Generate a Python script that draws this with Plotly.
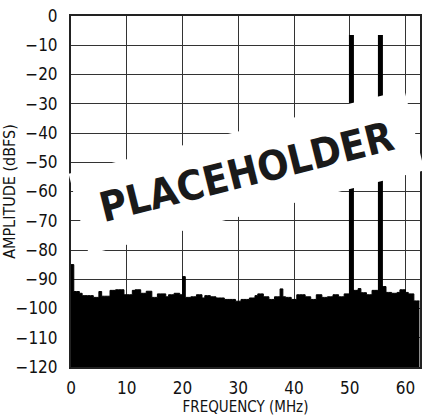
import numpy as np
import plotly.graph_objects as go

# Noise floor, 0.5 MHz bins starting at 0 MHz (dBFS)
floor_db = [
    -85.0, -94.2, -94.2, -94.8, -95.6, -95.6, -95.6, -95.6, -96.2, -96.2,
    -94.2, -95.8, -95.8, -95.8, -93.8, -93.8, -93.6, -93.6, -93.6, -95.3,
    -95.3, -95.3, -93.8, -93.6, -93.6, -94.8, -94.8, -94.1, -94.1, -96.2,
    -96.2, -95.0, -95.0, -95.0, -96.0, -95.3, -95.3, -94.8, -94.8, -95.3,
    -89.1, -96.2, -96.2, -96.0, -96.0, -95.3, -95.3, -96.4, -95.6, -95.6,
    -96.0, -96.0, -96.4, -96.4, -96.4, -96.9, -96.9, -96.9, -96.9, -97.5,
    -97.5, -96.9, -96.9, -96.9, -96.4, -96.4, -95.6, -95.0, -95.0, -96.0,
    -96.0, -96.9, -96.9, -96.0, -96.0, -93.3, -96.0, -96.2, -96.2, -96.9,
    -96.9, -95.3, -95.3, -95.3, -96.0, -96.0, -96.9, -96.9, -95.3, -95.3,
    -96.2, -96.2, -96.0, -96.0, -95.3, -95.3, -96.0, -96.0, -95.0, -95.0,
    -95.0, -93.8, -93.8, -93.2, -94.6, -94.6, -95.3, -95.3, -93.8, -93.8,
    -93.8, -92.5, -92.5, -94.5, -94.5, -94.8, -94.8, -94.5, -93.6, -93.6,
    -94.5, -95.0, -95.0, -97.4, -97.4, -97.4,
]
bin_mhz = 0.5
freq_mhz = np.arange(len(floor_db)) * bin_mhz

# Two input tones
tone_freq_mhz = [50.3, 55.5]
tone_level_db = [-6.5, -6.5]

floor_level = -120
x_ticks = [0, 10, 20, 30, 40, 50, 60]
y_ticks = list(range(-120, 1, 10))
y_tick_text = ["\u2212" + str(-v) if v < 0 else str(v) for v in y_ticks]

FONT = "Liberation Sans Narrow, DejaVu Sans Condensed, Arial Narrow, sans-serif"

fig = go.Figure()
fig.add_trace(go.Scatter(
    x=freq_mhz, y=[floor_level] * len(floor_db), mode="lines",
    line=dict(width=0, color="black"), showlegend=False, hoverinfo="skip"))
fig.add_trace(go.Scatter(
    x=freq_mhz, y=floor_db, mode="lines", line_shape="hv",
    line=dict(width=1, color="black"), fill="tonexty", fillcolor="black",
    showlegend=False))

tx, ty = [], []
for f, lv in zip(tone_freq_mhz, tone_level_db):
    tx += [f, f, None]
    ty += [floor_level, lv, None]
fig.add_trace(go.Scatter(x=tx, y=ty, mode="lines",
                         line=dict(width=5, color="black"), showlegend=False))

fig.update_layout(
    width=422, height=418,
    margin=dict(l=71, r=2, t=16, b=51, autoexpand=False),
    paper_bgcolor="white", plot_bgcolor="white",
    font=dict(family=FONT, size=17, color="#111"),
    xaxis=dict(range=[0, 62.6], tickvals=x_ticks, showgrid=True,
               gridcolor="#333", gridwidth=1, zeroline=False,
               showline=True, linecolor="#222", linewidth=2, mirror=True,
               ticks="", ticklabelstandoff=5, automargin=False,
               title=dict(text="FREQUENCY (MHz)", font=dict(size=15, family=FONT),
                          standoff=4)),
    yaxis=dict(range=[-120, 0], tickvals=y_ticks, ticktext=y_tick_text,
               showgrid=True, gridcolor="#333", gridwidth=1, zeroline=False,
               showline=True, linecolor="#222", linewidth=2, mirror=True,
               ticks="", ticklabelstandoff=8, automargin=False,
               title=dict(text="AMPLITUDE (dBFS)", font=dict(size=16, family=FONT),
                          standoff=4)),
)

fig.add_annotation(
    text="<b>PLACEHOLDER</b>", xref="paper", yref="paper",
    x=0.504, y=0.556, xanchor="center", yanchor="middle",
    showarrow=False, textangle=-14, width=343, height=80,
    bgcolor="white", font=dict(size=41, family=FONT, color="#1a1a1a"))

fig.write_html("out.html", config={"displayModeBar": False},
               post_script="document.body.style.margin='0';document.body.style.overflow='hidden';")
